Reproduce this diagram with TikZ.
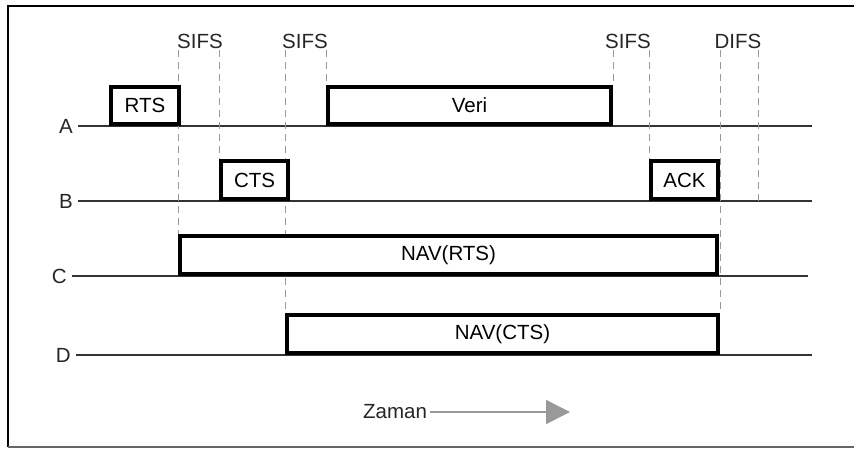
\documentclass[tikz,border=0pt]{standalone}
\usepackage{fontspec}
\setmainfont{Liberation Sans}
\usetikzlibrary{positioning,arrows.meta,calc,backgrounds}

\begin{document}
\begin{tikzpicture}[
    x=1pt, y=-1pt,
    font=\fontsize{20.5}{23}\selectfont,
    lane/.style={draw=black!80, line width=1.9pt},
    slot/.style={draw, line width=4pt, inner sep=0pt, anchor=south west, fill=white},
    guide/.style={draw=black!40, line width=0.9pt, dash pattern=on 7pt off 5pt},
    lanelab/.style={anchor=east, inner sep=5pt, text=black!85},
    gaplab/.style={anchor=base, inner sep=0pt, text=black!85}
  ]
  \useasboundingbox (0,0) rectangle (854,448);
  \draw[line width=1.4pt] (856,6) -- (8,6) -- (8,447);
  \draw[line width=1.4pt, black!60] (8,447) -- (856,447);

  % frames on the time lines
  \node[slot, minimum width=68, minimum height=37] (rts) at (109,126) {RTS};
  \node[slot, minimum width=67, minimum height=38] (cts) at (219,201) {CTS};
  \node[slot, minimum width=283, minimum height=37] (veri) at (326,126) {Veri};
  \node[slot, minimum width=67, minimum height=38] (ack) at (649,201) {ACK};
  \node[slot, minimum width=537, minimum height=38] (navrts) at (178,276) {NAV(RTS)};
  \node[slot, minimum width=431, minimum height=38] (navcts) at (285,355) {NAV(CTS)};

  \begin{scope}[on background layer]
    \foreach \lab/\y/\xa/\xb in {A/126/78/812,B/201/78/812,C/276/72/808,D/355/76/812} {
      \node[lanelab] (lab\lab) at (\xa,\y) {\lab};
      \coordinate (end\lab) at (\xb,\y);
      \draw[lane] (lab\lab.east) -- (end\lab);
    }

    \coordinate (gtop) at (0,50);
    \coordinate (difs) at (758,201);
    \draw[guide] (navrts.north west |- gtop) -- (navrts.north west);
    \draw[guide] (cts.north west |- gtop) -- (cts.north west);
    \draw[guide] (navcts.north west |- gtop) -- (navcts.north west);
    \draw[guide] (veri.south west |- gtop) -- (veri.south west);
    \draw[guide] (veri.north east |- gtop) -- (veri.north east);
    \draw[guide] (ack.north west |- gtop) -- (ack.north west);
    \draw[guide] (navcts.north east |- gtop) -- (navcts.north east);
    \draw[guide] (difs |- gtop) -- (difs);
  \end{scope}

  \node[gaplab] (sifs1) at (200,48) {SIFS};
  \node[gaplab] (sifs2) at (305,48) {SIFS};
  \node[gaplab] (sifs3) at (628,48) {SIFS};
  \node[gaplab] (difs1) at (738,48) {DIFS};

  \node[text=black!85] (zaman) at (395,412) {Zaman};
  \coordinate (zend) at (570,412);
  \draw[black!40, line width=1.5pt, -{Triangle[length=24pt, width=24pt]}] (zaman.east) -- (zend);
\end{tikzpicture}
\end{document}
